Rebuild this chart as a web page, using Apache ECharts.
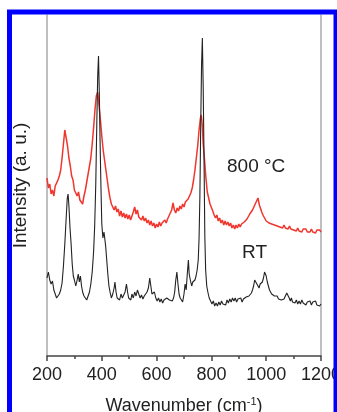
<!DOCTYPE html>
<html>
<head>
<meta charset="utf-8">
<script src="https://cdn.jsdelivr.net/npm/echarts@6/dist/echarts.min.js"></script>
<style>
  html, body { margin: 0; padding: 0; background: #fff; }
  #chart { width: 337px; height: 412px; }
</style>
</head>
<body>
<div id="chart"></div>
<script>
// Raman spectra, intensity in arbitrary units
const xTicks = [200, 400, 600, 800, 1000, 1200];

const hotSpectrum = [
  [200,178],[205,168],[210,172],[215,162],[220,166],[225,160],[230,170],[235,168],[240,176],[245,180],
  [250,186],[255,198],[260,212],[265,226],[270,218],[275,210],[280,198],[285,190],[290,180],[295,176],
  [300,166],[305,168],[310,160],[315,164],[320,156],[325,158],[330,152],[335,160],[340,166],[345,174],
  [350,182],[355,190],[360,198],[365,212],[370,228],[375,246],[380,260],[385,264],[390,250],[395,236],
  [400,220],[405,206],[410,196],[415,186],[420,176],[425,166],[430,158],[435,152],[440,154],[445,146],
  [450,150],[455,144],[460,147],[465,140],[470,145],[475,139],[480,143],[485,138],[490,142],[495,137],
  [500,141],[505,136],[510,140],[515,144],[520,149],[525,142],[530,146],[535,139],[540,141],[545,136],
  [550,140],[555,135],[560,138],[565,133],[570,136],[575,131],[580,135],[585,130],[590,133],[595,128],
  [600,132],[605,129],[610,134],[615,130],[620,133],[625,131],[630,136],[635,133],[640,137],[645,140],
  [650,138],[655,146],[660,153],[665,146],[670,143],[675,148],[680,145],[685,150],[690,147],[695,152],
  [700,149],[705,154],[710,152],[715,157],[720,160],[725,163],[730,168],[735,176],[740,186],[745,198],
  [750,210],[755,226],[760,238],[763,241],[767,230],[770,212],[775,196],[780,178],[785,164],[790,158],
  [795,152],[800,150],[805,145],[810,141],[815,138],[820,141],[825,135],[830,138],[835,133],[840,136],
  [845,131],[850,135],[855,131],[860,134],[865,130],[870,133],[875,128],[880,131],[885,127],[890,131],
  [895,128],[900,132],[905,129],[910,132],[915,131],[920,134],[925,133],[930,137],[935,139],[940,142],
  [945,141],[950,146],[955,148],[960,152],[965,155],[970,158],[975,151],[980,147],[985,143],[990,140],
  [995,138],[1000,135],[1005,137],[1010,133],[1015,135],[1020,132],[1025,134],[1030,131],[1035,133],[1040,130],
  [1045,132],[1050,129],[1055,131],[1060,128],[1065,131],[1070,128],[1075,130],[1080,127],[1085,130],[1090,127],
  [1095,129],[1100,126],[1105,128],[1110,125],[1115,128],[1120,125],[1125,127],[1130,124],[1135,127],[1140,125],
  [1145,127],[1150,124],[1155,126],[1160,124],[1165,127],[1170,124],[1175,126],[1180,123],[1185,126],[1190,124],
  [1195,126],[1200,124]
];

const rtSpectrum = [
  [200,78],[205,84],[210,76],[215,72],[220,75],[225,66],[230,62],[235,58],[240,56],[245,62],
  [250,66],[255,73],[260,90],[265,112],[270,138],[274,158],[277,162],[280,150],[284,128],[288,112],
  [292,92],[296,80],[300,76],[305,70],[310,76],[314,82],[318,74],[322,80],[326,70],[330,64],
  [335,60],[340,62],[345,56],[350,58],[355,64],[360,72],[365,84],[370,104],[374,130],[378,172],
  [382,236],[385,280],[388,300],[391,262],[394,210],[397,168],[400,132],[404,118],[408,124],[411,122],
  [414,110],[418,96],[422,82],[426,70],[430,64],[435,58],[440,62],[445,68],[448,74],[452,64],
  [456,58],[460,60],[465,56],[470,62],[475,58],[480,60],[485,64],[490,72],[494,64],[498,58],
  [502,60],[506,56],[510,62],[515,58],[520,64],[525,60],[530,66],[535,62],[540,58],[545,61],
  [550,57],[555,60],[560,62],[565,64],[570,68],[575,78],[579,70],[583,62],[588,60],[592,64],
  [597,58],[602,55],[607,58],[612,54],[617,57],[622,53],[627,56],[632,54],[637,58],[642,60],
  [647,56],[652,58],[657,55],[662,58],[666,64],[670,76],[674,84],[678,72],[682,62],[686,58],
  [690,56],[695,54],[700,62],[704,72],[708,66],[712,82],[716,96],[719,82],[723,76],[728,70],
  [732,74],[736,72],[740,76],[744,80],[748,86],[752,96],[755,118],[758,160],[761,230],[764,290],
  [767,318],[770,270],[773,200],[776,120],[779,86],[783,70],[787,64],[792,58],[797,56],[802,52],
  [807,55],[812,50],[817,53],[822,50],[827,54],[832,51],[837,55],[842,52],[847,54],[852,51],
  [857,56],[862,53],[867,57],[872,54],[877,58],[882,55],[887,58],[892,54],[897,57],[902,55],
  [907,58],[912,54],[917,57],[922,56],[927,59],[932,57],[937,60],[942,59],[946,63],[950,66],
  [954,70],[958,76],[962,78],[966,72],[970,70],[974,68],[978,72],[982,70],[986,74],[990,78],
  [994,84],[997,86],[1000,80],[1004,74],[1008,70],[1012,66],[1016,68],[1020,62],[1025,64],[1030,60],
  [1035,58],[1040,60],[1045,57],[1050,59],[1055,56],[1060,58],[1065,57],[1070,60],[1075,63],[1080,64],
  [1084,58],[1088,55],[1092,58],[1096,54],[1100,56],[1105,53],[1110,56],[1115,52],[1120,55],[1125,52],
  [1130,56],[1135,53],[1140,55],[1145,51],[1150,54],[1155,52],[1160,55],[1165,51],[1170,54],[1175,52],
  [1180,55],[1185,51],[1190,53],[1195,50],[1200,52]
];

const font = "'Liberation Sans', Arial, sans-serif";

const chart = echarts.init(document.getElementById("chart"));
chart.setOption({
  animation: false,
  backgroundColor: "#fff",
  grid: { left: 47, right: 16, top: 15, bottom: 56, outerBoundsMode: "none", containLabel: false },
  xAxis: {
    type: "value",
    min: xTicks[0],
    max: xTicks[xTicks.length - 1],
    interval: 200,
    name: "Wavenumber (cm{sup|-1})",
    nameLocation: "middle",
    nameGap: 40,
    nameTextStyle: {
      fontFamily: font, fontSize: 18, color: "#222",
      rich: { sup: { fontFamily: font, fontSize: 11, color: "#222", verticalAlign: "top", padding: [0, 0, 10, 0] } }
    },
    axisLine: { lineStyle: { color: "#444", width: 1.5 } },
    axisTick: { length: 5, lineStyle: { color: "#444", width: 1.5 } },
    minorTick: { show: true, splitNumber: 2, length: 3, lineStyle: { color: "#444", width: 1.5 } },
    axisLabel: { fontFamily: font, fontSize: 18, color: "#222", margin: 10, formatter: v => String(v) },
    splitLine: { show: false }
  },
  yAxis: [
    {
      type: "value", min: 0, max: 341,
      name: "Intensity (a. u.)",
      nameLocation: "middle",
      nameGap: 17,
      nameTextStyle: { fontFamily: font, fontSize: 19, color: "#222" },
      axisLine: { show: true, lineStyle: { color: "#aaa", width: 1.5 } },
      axisTick: { show: false },
      axisLabel: { show: false },
      splitLine: { show: false }
    },
    {
      type: "value", min: 0, max: 341, position: "right",
      axisLine: { show: true, lineStyle: { color: "#aaa", width: 1.5 } },
      axisTick: { show: false },
      axisLabel: { show: false },
      splitLine: { show: false }
    }
  ],
  series: [
    {
      name: "800 °C", type: "line", data: hotSpectrum, showSymbol: false,
      lineStyle: { color: "#f0352c", width: 1.5 }
    },
    {
      name: "RT", type: "line", data: rtSpectrum, showSymbol: false,
      lineStyle: { color: "#222", width: 1.1 }
    }
  ],
  graphic: [
    {
      type: "text",
      style: { text: "800 °C", x: 227, y: 167, font: "19px " + font, fill: "#222", textVerticalAlign: "middle" }
    },
    {
      type: "text",
      style: { text: "RT", x: 242, y: 253, font: "19px " + font, fill: "#222", textVerticalAlign: "middle" }
    },
    {
      type: "rect", z: 100,
      shape: { x: 9.5, y: 12, width: 326.5, height: 500 },
      style: { fill: "none", stroke: "#0000ff", lineWidth: 5 }
    }
  ]
});
</script>
</body>
</html>
